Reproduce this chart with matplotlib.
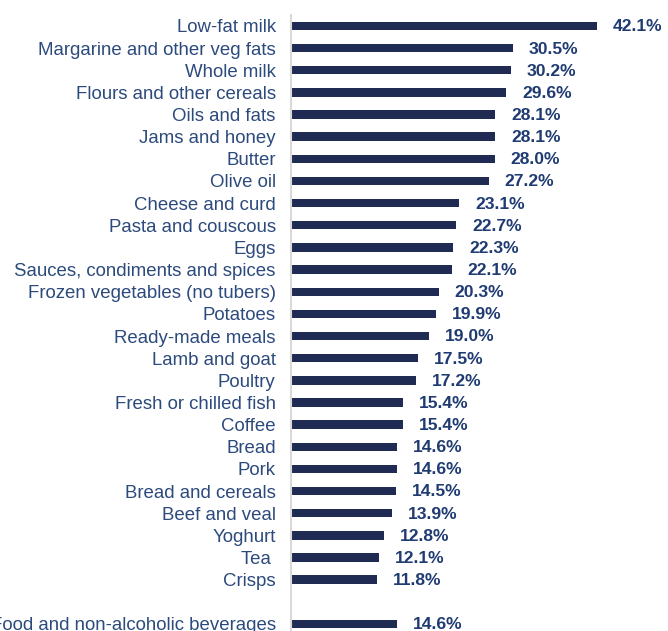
import matplotlib.pyplot as plt

plt.rcParams['font.family'] = ['Liberation Sans', 'DejaVu Sans']

# Share of items (%) per food category
categories = [
    "Low-fat milk", "Margarine and other veg fats", "Whole milk",
    "Flours and other cereals", "Oils and fats", "Jams and honey", "Butter",
    "Olive oil", "Cheese and curd", "Pasta and couscous", "Eggs",
    "Sauces, condiments and spices", "Frozen vegetables (no tubers)",
    "Potatoes", "Ready-made meals", "Lamb and goat", "Poultry",
    "Fresh or chilled fish", "Coffee", "Bread", "Pork", "Bread and cereals",
    "Beef and veal", "Yoghurt", "Tea ", "Crisps",
]
values = [42.1, 30.5, 30.2, 29.6, 28.1, 28.1, 28.0, 27.2, 23.1, 22.7, 22.3,
          22.1, 20.3, 19.9, 19.0, 17.5, 17.2, 15.4, 15.4, 14.6, 14.6, 14.5,
          13.9, 12.8, 12.1, 11.8]

total_label = "Food and non-alcoholic beverages"
total_value = 14.6

bar_color = "#1f2b53"
label_color = "#2c4a7c"
value_color = "#1f3b72"

labels = categories + ["", total_label]
vals = values + [None, total_value]
ypos = list(range(len(labels)))

fig = plt.figure(figsize=(6.68, 6.31), dpi=100)
ax = fig.add_axes([0.4356, -0.0063, 0.53, 0.9827])

for y, v in zip(ypos, vals):
    if v is None:
        continue
    ax.barh(y, v, height=0.38, color=bar_color)
    ax.annotate(f"{v:.1f}%", (v, y), xytext=(11.5, -0.7), textcoords="offset points",
                ha="left", va="center", fontsize=12.6, fontweight="bold",
                color=value_color, annotation_clip=False)

ax.set_yticks(ypos)
ax.set_yticklabels(labels, fontsize=13.4, color=label_color)
ax.tick_params(axis="y", length=0, pad=11)
ax.set_ylim(len(labels) - 0.5, -0.5)
# 7.27 px per percentage point
ax.set_xlim(0, (0.53 * 668) / 7.27)
ax.set_xticks([])

for side in ("top", "right", "bottom"):
    ax.spines[side].set_visible(False)
ax.spines["left"].set_color("#d9d9d9")
ax.spines["left"].set_linewidth(1.5)

fig.savefig("out.png", dpi=100)
